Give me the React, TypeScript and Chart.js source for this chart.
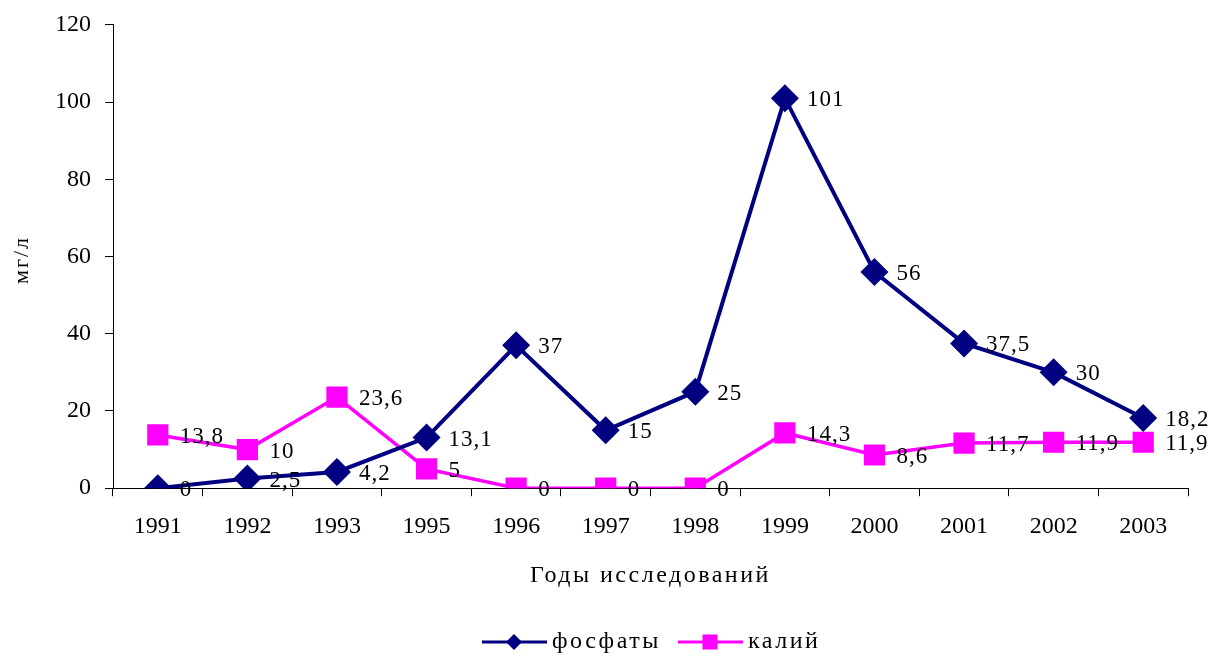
import React, { useEffect, useRef } from "react";
import { Chart, registerables } from "chart.js";

Chart.register(...registerables);

const years = ["1991", "1992", "1993", "1995", "1996", "1997", "1998", "1999", "2000", "2001", "2002", "2003"];
const phosphates = [0, 2.5, 4.2, 13.1, 37, 15, 25, 101, 56, 37.5, 30, 18.2];
const potassium = [13.8, 10, 23.6, 5, 0, 0, 0, 14.3, 8.6, 11.7, 11.9, 11.9];
const seriesNames = ["фосфаты", "калий"];
const colors = ["#000080", "#FF00FF"];
const xTitle = "Годы исследований";
const yTitle = "мг/л";

const FONT = "'Liberation Serif', 'Times New Roman', serif";

const labelPlugin = {
  id: "valueLabels",
  afterDatasetsDraw(chart: any) {
    const ctx = chart.ctx;
    ctx.save();
    ctx.font = `23px ${FONT}`;
    (ctx as any).letterSpacing = "1px";
    ctx.fillStyle = "#000";
    ctx.textAlign = "left";
    ctx.textBaseline = "middle";
    chart.data.datasets.forEach((ds: any, i: number) => {
      const meta = chart.getDatasetMeta(i);
      meta.data.forEach((pt: any, j: number) => {
        const v = ds.data[j];
        ctx.fillText(String(v).replace(".", ","), pt.x + 22, pt.y + 2);
      });
    });
    ctx.restore();
  },
  afterDraw(chart: any) {
    const ctx = chart.ctx;
    const area = chart.chartArea;
    ctx.save();
    // x axis title
    ctx.fillStyle = "#000";
    ctx.font = `24px ${FONT}`;
    (ctx as any).letterSpacing = "2.5px";
    ctx.textAlign = "center";
    ctx.textBaseline = "middle";
    ctx.fillText(xTitle, (area.left + area.right) / 2, 576);
    // y axis title
    ctx.save();
    ctx.translate(22, 260);
    ctx.rotate(-Math.PI / 2);
    ctx.font = `22px ${FONT}`;
    (ctx as any).letterSpacing = "2px";
    ctx.fillText(yTitle, 0, 0);
    ctx.restore();
    // legend
    const y = 642;
    ctx.font = `24px ${FONT}`;
    (ctx as any).letterSpacing = "2.5px";
    ctx.textBaseline = "middle";
    ctx.textAlign = "left";
    const items = [
      { x: 482, tx: 552, name: seriesNames[0], color: colors[0], style: "rectRot" },
      { x: 678, tx: 748, name: seriesNames[1], color: colors[1], style: "rect" },
    ];
    items.forEach((it) => {
      ctx.strokeStyle = it.color;
      ctx.lineWidth = 3;
      ctx.beginPath();
      ctx.moveTo(it.x, y);
      ctx.lineTo(it.x + 65, y);
      ctx.stroke();
      ctx.fillStyle = it.color;
      const cx = it.x + 32;
      if (it.style === "rectRot") {
        ctx.beginPath();
        ctx.moveTo(cx, y - 8);
        ctx.lineTo(cx + 8, y);
        ctx.lineTo(cx, y + 8);
        ctx.lineTo(cx - 8, y);
        ctx.closePath();
        ctx.fill();
      } else {
        ctx.fillRect(cx - 7.5, y - 7.5, 15, 15);
      }
      ctx.fillStyle = "#000";
      ctx.fillText(it.name, it.tx, y);
    });
    ctx.restore();
  },
};

export default function App() {
  const ref = useRef<HTMLCanvasElement>(null);
  useEffect(() => {
    document.body.style.margin = "0";
    const chart = new Chart(ref.current!, {
      type: "line",
      data: {
        labels: years,
        datasets: [
          {
            label: seriesNames[0],
            data: phosphates,
            borderColor: colors[0],
            backgroundColor: colors[0],
            borderWidth: 4,
            pointStyle: "rectRot",
            pointRadius: 14,
            pointBorderWidth: 0,
            tension: 0,
          },
          {
            label: seriesNames[1],
            data: potassium,
            borderColor: colors[1],
            backgroundColor: colors[1],
            borderWidth: 3.5,
            pointStyle: "rect",
            pointRadius: 15,
            pointBorderWidth: 0,
            tension: 0,
          },
        ],
      },
      options: {
        animation: false,
        responsive: false,
        devicePixelRatio: 1,
        layout: { padding: { top: 5, right: 21, bottom: 98, left: 41 } },
        plugins: { legend: { display: false }, tooltip: { enabled: false } },
        scales: {
          x: {
            offset: true,
            grid: { offset: true, drawOnChartArea: false, drawTicks: true, tickLength: 8, color: "#000" },
            border: { color: "#000", width: 1 },
            ticks: { color: "#000", font: { family: FONT, size: 24 }, padding: 16, maxRotation: 0 },
          },
          y: {
            min: 0,
            max: 120,
            ticks: { stepSize: 20, color: "#000", font: { family: FONT, size: 24, lineHeight: 0.9 }, padding: 14 },
            grid: { drawOnChartArea: false, drawTicks: true, tickLength: 8, color: "#000" },
            border: { color: "#000", width: 1 },
          },
        },
      },
      plugins: [labelPlugin],
    });
    return () => chart.destroy();
  }, []);
  return (
    <div style={{ width: 1209, height: 655, background: "#fff" }}>
      <canvas ref={ref} width={1209} height={655} style={{ display: "block" }} />
    </div>
  );
}
